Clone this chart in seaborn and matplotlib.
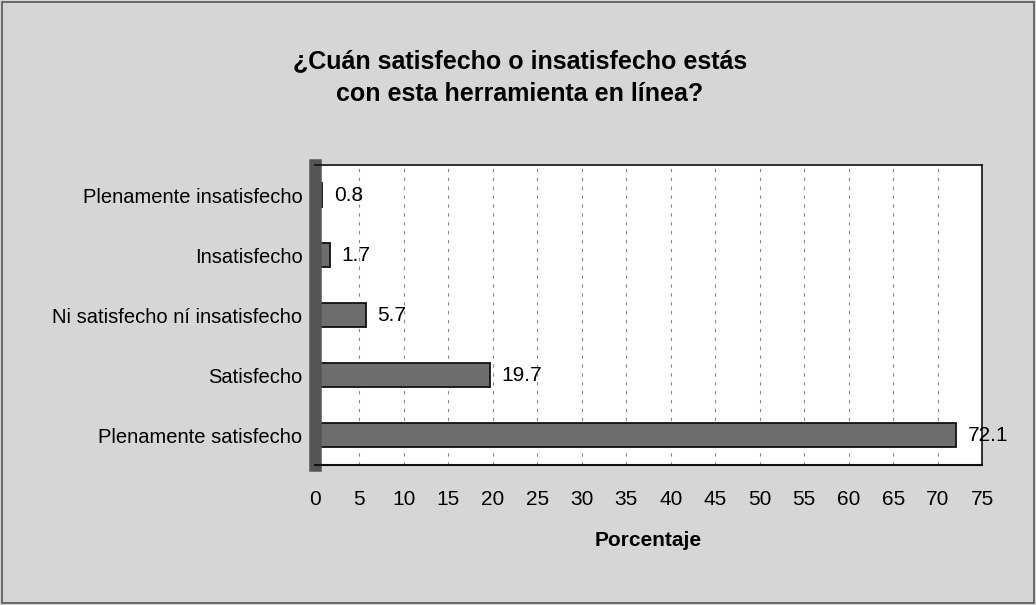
import pandas as pd
import matplotlib.pyplot as plt
import seaborn as sns

categorias = ['Plenamente insatisfecho', 'Insatisfecho', 'Ni satisfecho ní insatisfecho',
              'Satisfecho', 'Plenamente satisfecho']
porcentajes = [0.8, 1.7, 5.7, 19.7, 72.1]
ticks = list(range(0, 80, 5))

df = pd.DataFrame({'Respuesta': categorias, 'Porcentaje': porcentajes})

sns.set_style('white')
plt.rcParams['font.family'] = ['Liberation Sans', 'DejaVu Sans']
plt.rcParams['text.color'] = 'black'
plt.rcParams['xtick.color'] = 'black'
plt.rcParams['ytick.color'] = 'black'
plt.rcParams['axes.labelcolor'] = 'black'

fig = plt.figure(figsize=(10.36, 6.05), dpi=100, facecolor='#d6d6d6')
ax = fig.add_axes([0.304, 0.231, 0.644, 0.496])
ax.set_facecolor('white')

sns.barplot(data=df, x='Porcentaje', y='Respuesta', orient='h', color='#6e6e6e',
            edgecolor='#111111', linewidth=1.3, width=0.4, ax=ax)

ax.set_xlim(0, 75)
ax.set_xticks(ticks)
ax.set_xticklabels([str(t) for t in ticks], fontsize=15)
ax.tick_params(axis='y', labelsize=14.5, length=0, pad=9)
ax.tick_params(axis='x', length=0, pad=18)
for t in ticks[1:-1]:
    ax.axvline(t, color='#888888', ls=(0, (3, 5)), lw=0.8, zorder=0)

for i, v in enumerate(porcentajes):
    ax.text(v + 1.3, i, f'{v}', va='center', ha='left', fontsize=15)

for s in ['top', 'right']:
    ax.spines[s].set_color('#111111')
    ax.spines[s].set_linewidth(1.2)
ax.spines['left'].set_color('#555555')
ax.spines['left'].set_linewidth(9)
ax.spines['bottom'].set_color('#111111')
ax.spines['bottom'].set_linewidth(1.5)

ax.set_ylabel('')
ax.set_xlabel('Porcentaje', fontsize=15, fontweight='bold', labelpad=16)

fig.text(0.502, 0.872, '¿Cuán satisfecho o insatisfecho estás\ncon esta herramienta en línea?',
         ha='center', va='center', fontsize=18, fontweight='bold', linespacing=1.45)

fig.add_artist(plt.Rectangle((0.002, 0.004), 0.996, 0.992, transform=fig.transFigure,
                             fill=False, edgecolor='#555555', lw=1.2))

fig.savefig('out.png', dpi=100, facecolor=fig.get_facecolor())
